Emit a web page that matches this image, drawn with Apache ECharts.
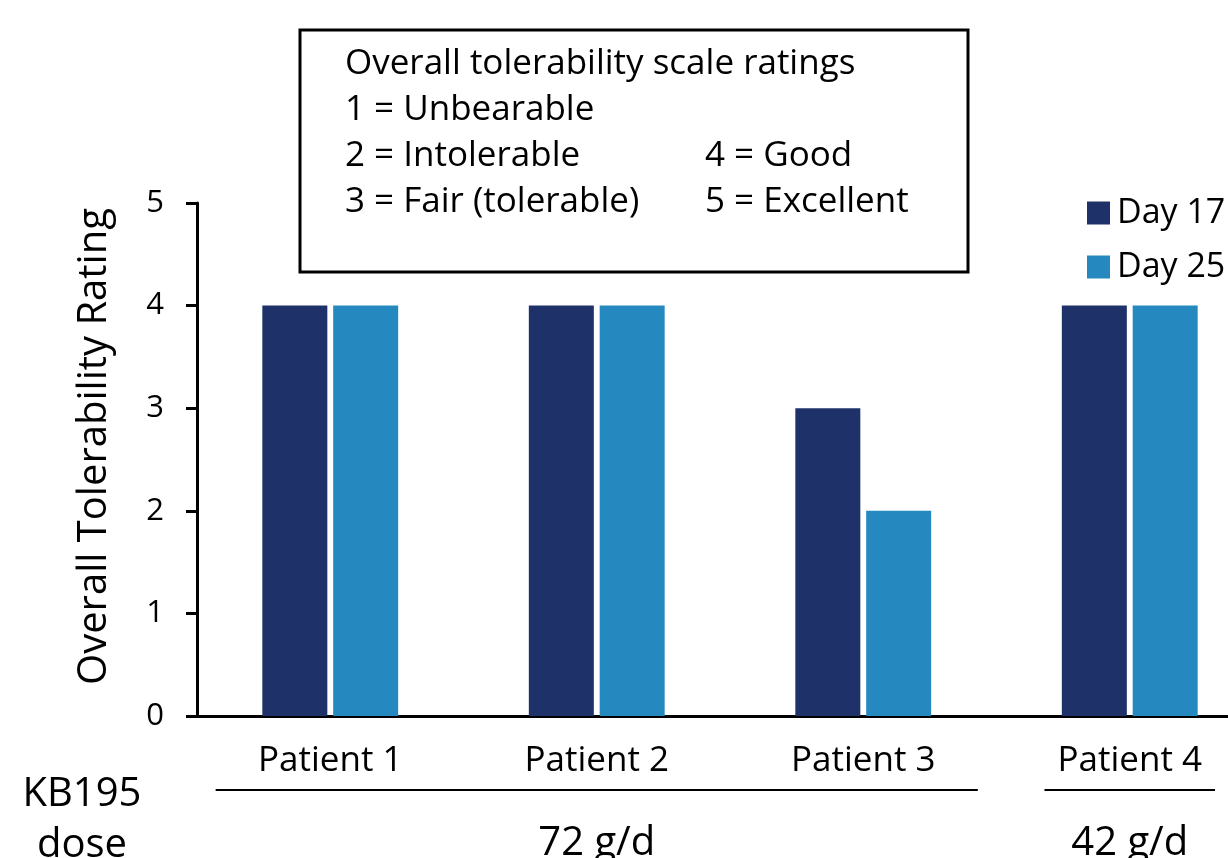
<!DOCTYPE html>
<html>
<head>
<meta charset="utf-8">
<script src="https://cdn.jsdelivr.net/npm/echarts@6/dist/echarts.min.js"></script>
<style>
  html, body { margin: 0; padding: 0; background: #fff; }
  #chart { width: 1228px; height: 858px; }
</style>
</head>
<body>
<div id="chart"></div>
<script>
// Tolerability ratings per patient, two study days
const patients = ['Patient 1', 'Patient 2', 'Patient 3', 'Patient 4'];
const day17 = [4, 4, 3, 4];
const day25 = [4, 4, 2, 4];
const seriesNames = ['Day 17', 'Day 25'];
const yTicks = [0, 1, 2, 3, 4, 5];

// Dose groups: first/last patient index covered and the underline reach (in category units)
const doseLabels = ['72 g/d', '42 g/d'];
const doseFrom = [0, 3];
const doseTo = [2, 3];
const doseReach = [0.43, 0.32];

// Rating scale key shown in the boxed note
const scaleTitle = 'Overall tolerability scale ratings';
const scaleLeft = ['1 = Unbearable', '2 = Intolerable', '3 = Fair (tolerable)'];
const scaleRight = ['4 = Good', '5 = Excellent'];

const FONT = '"Open Sans", "Noto Sans", sans-serif';
const DARK = '#1e3169';
const LIGHT = '#2589c0';

const chart = echarts.init(document.getElementById('chart'), null, { renderer: 'canvas' });

const option = {
  animation: false,
  backgroundColor: '#fff',
  textStyle: { fontFamily: FONT, color: '#000' },
  // plot runs past the right edge of the canvas, so the last group is partly clipped
  grid: { left: 197, top: 203, height: 513, width: 1066, outerBoundsMode: 'none', containLabel: false },
  legend: {
    orient: 'vertical',
    left: 1082,
    top: 191,
    itemWidth: 23,
    itemHeight: 23,
    itemGap: 20,
    icon: 'rect',
    data: seriesNames,
    textStyle: { fontFamily: FONT, fontSize: 34, color: '#000', padding: [0, 0, 0, 2] }
  },
  xAxis: {
    type: 'category',
    data: patients,
    axisLine: { lineStyle: { color: '#000', width: 3 } },
    axisTick: { show: false },
    axisLabel: { fontFamily: FONT, fontSize: 35, color: '#000', margin: 28 }
  },
  yAxis: {
    type: 'value',
    min: yTicks[0],
    max: yTicks[yTicks.length - 1],
    interval: 1,
    splitLine: { show: false },
    axisLine: { show: true, lineStyle: { color: '#000', width: 3 } },
    axisTick: { show: true, length: 11, lineStyle: { color: '#000', width: 3 } },
    // tick numbers are drawn below as text at the scale positions
    axisLabel: { show: false },
    name: 'Overall Tolerability Rating',
    nameLocation: 'middle',
    nameGap: 82,
    nameTextStyle: { fontFamily: FONT, fontSize: 40, color: '#000', padding: [0, 0, 0, 26] }
  },
  series: [
    { name: seriesNames[0], type: 'bar', data: day17, barWidth: 65, barGap: '9%', itemStyle: { color: DARK } },
    { name: seriesNames[1], type: 'bar', data: day25, barWidth: 65, itemStyle: { color: LIGHT } }
  ]
};
chart.setOption(option);

// Tick numbers, boxed note, dose underlines and dose labels placed from the axis scales
function drawAnnotations() {
  const els = [];

  // y tick numbers
  const step = chart.convertToPixel({ xAxisIndex: 0 }, 1) - chart.convertToPixel({ xAxisIndex: 0 }, 0);
  const axisX = chart.convertToPixel({ xAxisIndex: 0 }, 0) - step / 2;
  yTicks.forEach(v => {
    els.push({
      type: 'text', z: 5,
      style: { text: String(v), x: axisX - 33, y: chart.convertToPixel({ yAxisIndex: 0 }, v), fontFamily: FONT, fontSize: 31, fill: '#000', align: 'right', verticalAlign: 'middle' }
    });
  });

  // rating scale note
  const boxX = 300, boxY = 30;
  els.push({
    type: 'rect', shape: { x: boxX, y: boxY, width: 668, height: 242 },
    style: { fill: '#fff', stroke: '#000', lineWidth: 3 }, z: 10
  });
  const lineH = 46;
  const noteFont = 35;
  els.push({ type: 'text', z: 11, style: { text: scaleTitle, x: 345, y: 64, fontFamily: FONT, fontSize: noteFont, fill: '#000', verticalAlign: 'middle' } });
  scaleLeft.forEach((t, i) => {
    els.push({ type: 'text', z: 11, style: { text: t, x: 345, y: 64 + lineH * (i + 1), fontFamily: FONT, fontSize: noteFont, fill: '#000', verticalAlign: 'middle' } });
  });
  scaleRight.forEach((t, i) => {
    els.push({ type: 'text', z: 11, style: { text: t, x: 705, y: 64 + lineH * (i + 2), fontFamily: FONT, fontSize: noteFont, fill: '#000', verticalAlign: 'middle' } });
  });

  // dose group underlines + labels
  const baseY = chart.convertToPixel({ yAxisIndex: 0 }, 0);
  const lineY = baseY + 74;
  doseLabels.forEach((lab, g) => {
    const x0 = chart.convertToPixel({ xAxisIndex: 0 }, doseFrom[g]);
    const x1 = chart.convertToPixel({ xAxisIndex: 0 }, doseTo[g]);
    els.push({
      type: 'line', z: 5,
      shape: { x1: x0 - doseReach[g] * step, y1: lineY, x2: x1 + doseReach[g] * step, y2: lineY },
      style: { stroke: '#000', lineWidth: 2 }
    });
    els.push({
      type: 'text', z: 5,
      style: { text: lab, x: (x0 + x1) / 2, y: baseY + 128, fontFamily: FONT, fontSize: 40, fill: '#000', align: 'center', verticalAlign: 'middle' }
    });
  });

  els.push({ type: 'text', z: 5, style: { text: 'KB195', x: 82, y: baseY + 79, fontFamily: FONT, fontSize: 40, fill: '#000', align: 'center', verticalAlign: 'middle' } });
  els.push({ type: 'text', z: 5, style: { text: 'dose', x: 82, y: baseY + 130, fontFamily: FONT, fontSize: 40, fill: '#000', align: 'center', verticalAlign: 'middle' } });

  chart.setOption({ graphic: { elements: els } });
}
drawAnnotations();
</script>
</body>
</html>
